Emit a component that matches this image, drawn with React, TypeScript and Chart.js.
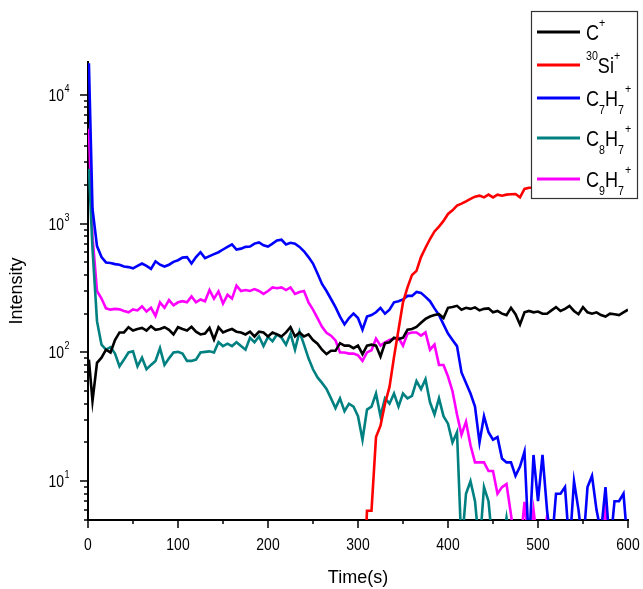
import { useEffect, useRef } from 'react'
import { Chart, registerables } from 'chart.js'

Chart.register(...registerables)

const SANS = '"Liberation Sans", Arial, sans-serif'
// the original uses a condensed face; emulate it by squeezing Liberation Sans
const NARROW_SCALE = 0.82

// sampling times (s): first point at 1 s, then every 5 s up to 600 s
const TIMES = [1, ...Array.from({ length: 120 }, (_, i) => (i + 1) * 5)]

const C_PLUS = [
  88, 42, 83, 91, 105, 100, 125, 143, 143, 157,
  148, 152, 155, 148, 160, 150, 152, 157, 150, 138,
  157, 152, 148, 158, 145, 138, 140, 155, 126, 157,
  143, 148, 152, 145, 143, 138, 145, 133, 145, 143,
  133, 143, 138, 133, 143, 157, 133, 143, 133, 138,
  125, 117, 105, 97, 103, 103, 118, 113, 113, 108,
  113, 97, 113, 115, 113, 93, 118, 120, 130, 127,
  130, 150, 152, 158, 170, 182, 190, 195, 198, 185,
  222, 225, 230, 215, 222, 218, 224, 212, 218, 220,
  205, 210, 200, 195, 222, 198, 165, 205, 210, 205,
  208, 200, 200, 212, 225, 210, 218, 230, 210, 198,
  225, 205, 200, 205, 195, 190, 200, 198, 195, 205,
  215,
]

// 30Si+ only starts near 305 s
const SI_START_TIME = 305
const SI_30 = [
  1, 5.9, 5.9, 22, 27, 40, 54, 92, 150, 245,
  320, 400, 430, 550, 650, 760, 870, 950, 1050, 1190,
  1270, 1380, 1430, 1490, 1560, 1620, 1650, 1600, 1680, 1600,
  1680, 1650, 1680, 1690, 1700, 1600, 1860, 1900, 1900, 1920,
  1900, 1950, 1930, 1960, 1950, 1980, 1960, 1990, 1970, 2000,
  1980, 2000, 2010, 1990, 2020, 2000, 2030, 2010, 2020, 2040,
]

const C7H7 = [
  17600, 1300, 670, 550, 500, 495, 485, 480, 465, 460,
  450, 470, 490, 470, 445, 510, 480, 465, 480, 505,
  520, 545, 550, 490, 550, 600, 540, 560, 580, 600,
  630, 660, 690, 630, 640, 660, 665, 700, 715, 680,
  665, 700, 740, 750, 690, 710, 700, 660, 610, 550,
  490, 410, 340, 300, 260, 225, 190, 165, 185, 200,
  185, 150, 190, 195, 205, 222, 200, 215, 245, 250,
  258, 275, 275, 295, 290, 270, 250, 220, 195, 165,
  140, 125, 112, 70, 58, 48, 38, 20, 32, 24,
  21, 22, 15, 14, 14, 11, 13, 17, 3, 16,
  7, 16, 6, 3, 8, 8, 9, 3, 10, 6,
  3, 9, 11, 6, 4, 9, 3, 7, 7, 8,
  3,
]

const C8H7 = [
  2670, 640, 175, 115, 105, 110, 98, 78, 88, 100,
  102, 78, 91, 74, 80, 86, 108, 80, 90, 100,
  101, 98, 86, 86, 88, 100, 101, 102, 100, 120,
  112, 117, 112, 120, 112, 105, 130, 120, 133, 112,
  132, 122, 138, 130, 115, 140, 105, 145, 115, 90,
  74, 64, 58, 52, 44, 37, 44, 35, 40, 38,
  32, 21, 36, 38, 48, 32, 44, 40, 48, 38,
  48, 44, 46, 60, 52, 62, 41, 33, 44, 32,
  28, 20, 24, 3, 8, 10, 7, 3, 9, 7,
  3, 3, 3, 5.2, 3, 3, 3, 3, 3, 3,
  3, 3, 3, 3, 3, 3, 3, 3, 3, 3,
  3, 3, 3, 3, 3, 3, 3, 3, 3, 3,
  3,
]

const C9H7 = [
  5470, 800, 300, 262, 220, 215, 218, 216, 210, 205,
  216, 212, 228, 208, 222, 192, 245, 222, 255, 232,
  245, 250, 245, 272, 245, 258, 250, 305, 262, 298,
  240, 280, 262, 330, 300, 305, 300, 310, 300, 285,
  300, 320, 315, 320, 305, 320, 285, 295, 300, 245,
  215, 185, 158, 142, 135, 124, 100, 100, 98, 98,
  95, 86, 100, 104, 128, 113, 120, 125, 128, 130,
  113, 140, 143, 143, 135, 143, 105, 115, 80, 80,
  65, 50, 33, 23, 29, 19, 14, 14, 14, 12,
  12, 8, 9, 9.5, 5.5, 3, 3, 6.9, 3, 6,
  3, 3, 5.3, 3, 3, 3, 3, 3, 3, 3,
  3, 3, 3, 3, 3, 6, 3, 3, 3, 3,
  3,
]

const SERIES_COLORS = ['#000000', '#ff0000', '#0000ff', '#008080', '#ff00ff']
// legend labels: plain, sub(scripted) and sup(erscripted) runs
type Part = { t: string; k?: 'sub' | 'sup'; stack?: boolean }
const SERIES_LABELS: Part[][] = [
  [{ t: 'C' }, { t: '+', k: 'sup' }],
  [{ t: '30', k: 'sup' }, { t: 'Si' }, { t: '+', k: 'sup' }],
  [{ t: 'C' }, { t: '7', k: 'sub' }, { t: 'H' }, { t: '7', k: 'sub' }, { t: '+', k: 'sup', stack: true }],
  [{ t: 'C' }, { t: '8', k: 'sub' }, { t: 'H' }, { t: '7', k: 'sub' }, { t: '+', k: 'sup', stack: true }],
  [{ t: 'C' }, { t: '9', k: 'sub' }, { t: 'H' }, { t: '7', k: 'sub' }, { t: '+', k: 'sup', stack: true }],
]

const X_MAJOR = [0, 100, 200, 300, 400, 500, 600]
const X_MINOR = [50, 150, 250, 350, 450, 550]
const Y_MAJOR = [10, 100, 1000, 10000]
const Y_MINOR = [1, 10, 100, 1000]
  .flatMap((d) => [2, 3, 4, 5, 6, 7, 8, 9].map((m) => m * d))
  .filter((v) => v >= 5 && v < 18000)

// legend layout (page pixels)
const LEGEND_BOX = { x: 531, y: 11, w: 106, h: 187 }
const LEGEND_ROW_Y = [32, 65, 98, 138, 179]

function toPoints(values: number[], start = 0) {
  return values.map((y, i) => ({ x: TIMES[i + start], y }))
}

// draws condensed text; returns the drawn width
function narrowText(
  ctx: CanvasRenderingContext2D,
  text: string,
  x: number,
  y: number,
  size: number,
  align: CanvasTextAlign = 'left'
) {
  ctx.font = `${size}px ${SANS}`
  ctx.textAlign = align
  ctx.textBaseline = 'alphabetic'
  ctx.save()
  ctx.translate(x, y)
  ctx.scale(NARROW_SCALE, 1)
  ctx.fillText(text, 0, 0)
  ctx.restore()
  return ctx.measureText(text).width * NARROW_SCALE
}

function narrowWidth(ctx: CanvasRenderingContext2D, text: string, size: number) {
  ctx.font = `${size}px ${SANS}`
  return ctx.measureText(text).width * NARROW_SCALE
}

function drawRich(ctx: CanvasRenderingContext2D, parts: Part[], x0: number, base: number) {
  let x = x0
  let prevStart = x0
  for (const p of parts) {
    const size = p.k ? 13 : 22
    const dy = p.k === 'sub' ? 8 : p.k === 'sup' ? -13 : 0
    const px = p.stack ? prevStart + 7 : x
    const w = narrowText(ctx, p.t, px, base + dy, size)
    if (p.stack) {
      x = Math.max(x, px + w)
    } else {
      prevStart = x
      x += w
    }
  }
}

const decorPlugin = {
  id: 'decor',
  afterDraw(chart: Chart) {
    const { ctx, scales, chartArea } = chart
    const xs = scales.x
    const ys = scales.y
    const { left, bottom } = chartArea
    ctx.save()

    // tick marks, outward
    ctx.strokeStyle = '#000'
    ctx.lineWidth = 1.5
    ctx.beginPath()
    for (const v of X_MAJOR) {
      const px = Math.round(xs.getPixelForValue(v))
      ctx.moveTo(px, bottom)
      ctx.lineTo(px, bottom + 8)
    }
    for (const v of X_MINOR) {
      const px = Math.round(xs.getPixelForValue(v))
      ctx.moveTo(px, bottom)
      ctx.lineTo(px, bottom + 4)
    }
    for (const v of Y_MAJOR) {
      const py = Math.round(ys.getPixelForValue(v))
      ctx.moveTo(left, py)
      ctx.lineTo(left - 8, py)
    }
    for (const v of Y_MINOR) {
      const py = Math.round(ys.getPixelForValue(v))
      ctx.moveTo(left, py)
      ctx.lineTo(left - 4, py)
    }
    ctx.stroke()

    ctx.fillStyle = '#000'
    // x tick labels
    for (const v of X_MAJOR) {
      narrowText(ctx, String(v), xs.getPixelForValue(v), bottom + 30, 17, 'center')
    }
    // y tick labels as 10^n
    for (const v of Y_MAJOR) {
      const py = ys.getPixelForValue(v)
      const exp = String(Math.round(Math.log10(v)))
      const we = narrowWidth(ctx, exp, 11)
      const wb = narrowWidth(ctx, '10', 17)
      const right = left - 19
      narrowText(ctx, '10', right - we - wb, py + 6, 17)
      narrowText(ctx, exp, right - we + 0.5, py - 3, 11)
    }

    // legend
    const b = LEGEND_BOX
    ctx.fillStyle = '#fff'
    ctx.fillRect(b.x, b.y, b.w, b.h)
    ctx.strokeStyle = '#333'
    ctx.lineWidth = 1.2
    ctx.strokeRect(b.x + 0.5, b.y + 0.5, b.w, b.h)
    SERIES_LABELS.forEach((parts, i) => {
      const ly = LEGEND_ROW_Y[i]
      ctx.strokeStyle = SERIES_COLORS[i]
      ctx.lineWidth = 3
      ctx.beginPath()
      ctx.moveTo(b.x + 6, ly)
      ctx.lineTo(b.x + 49, ly)
      ctx.stroke()
      ctx.fillStyle = '#000'
      drawRich(ctx, parts, b.x + 55, ly + 8)
    })

    ctx.restore()
  },
}

export default function App() {
  const canvasRef = useRef<HTMLCanvasElement>(null)
  const chartRef = useRef<Chart | null>(null)

  useEffect(() => {
    if (!canvasRef.current) return
    const ctx = canvasRef.current.getContext('2d')
    if (!ctx) return

    const seriesData = [
      toPoints(C_PLUS),
      toPoints(SI_30, TIMES.indexOf(SI_START_TIME)),
      toPoints(C7H7),
      toPoints(C8H7),
      toPoints(C9H7),
    ]
    // red on top, then the rest
    const drawOrder = [1, 0, 2, 3, 4]

    chartRef.current = new Chart(ctx, {
      type: 'line',
      data: {
        datasets: seriesData.map((data, i) => ({
          data,
          borderColor: SERIES_COLORS[i],
          backgroundColor: SERIES_COLORS[i],
          borderWidth: 2.6,
          pointRadius: 0,
          tension: 0,
          fill: false,
          order: drawOrder[i],
        })),
      },
      options: {
        responsive: true,
        maintainAspectRatio: false,
        animation: false,
        layout: { padding: { top: 62, right: 15, left: 0, bottom: 0 } },
        plugins: {
          legend: { display: false },
          tooltip: { enabled: false },
        },
        scales: {
          x: {
            type: 'linear',
            min: 0,
            max: 600,
            afterBuildTicks: (s: any) => {
              s.ticks = X_MAJOR.map((v) => ({ value: v }))
            },
            afterFit: (s: any) => {
              s.height = 69
            },
            grid: { display: false, drawTicks: false },
            border: { display: true, color: '#000', width: 2 },
            ticks: { display: false },
            title: {
              display: true,
              text: 'Time(s)',
              color: '#000',
              font: { family: SANS, size: 18 },
              padding: { top: 0, bottom: 0 },
            },
          },
          y: {
            type: 'logarithmic',
            min: 5,
            max: 18000,
            afterBuildTicks: (s: any) => {
              s.ticks = Y_MAJOR.map((v) => ({ value: v }))
            },
            afterFit: (s: any) => {
              s.width = 88
            },
            grid: { display: false, drawTicks: false },
            border: { display: true, color: '#000', width: 2 },
            ticks: { display: false },
            title: {
              display: true,
              text: 'Intensity',
              color: '#000',
              font: { family: SANS, size: 18 },
              padding: { top: 6, bottom: 0 },
            },
          },
        },
      },
      plugins: [decorPlugin],
    })

    return () => {
      if (chartRef.current) chartRef.current.destroy()
    }
  }, [])

  return (
    <div style={{ position: 'absolute', left: 0, top: 0, width: 643, height: 589, background: '#fff' }}>
      <canvas ref={canvasRef}></canvas>
    </div>
  )
}
